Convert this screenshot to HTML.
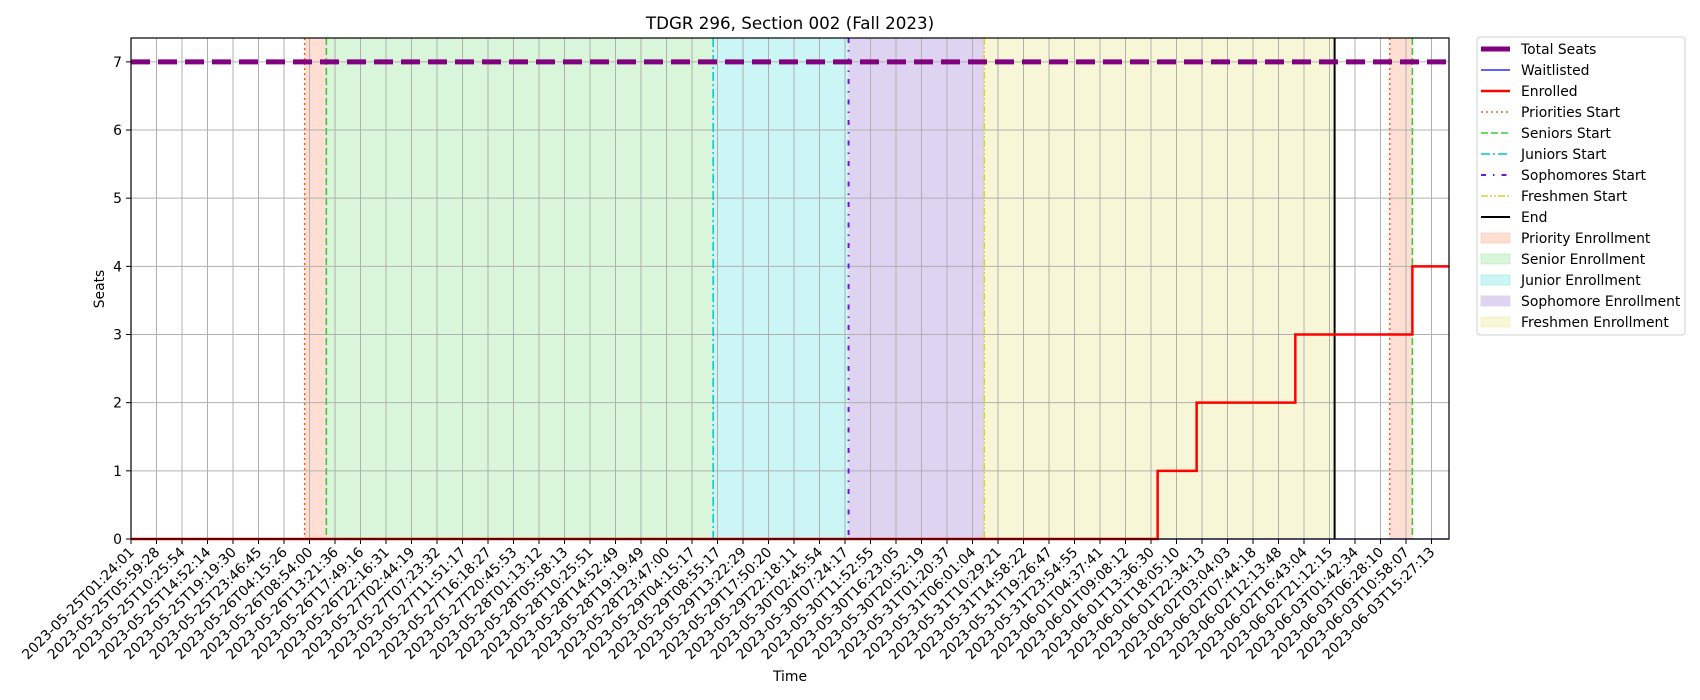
<!DOCTYPE html>
<html><head><meta charset="utf-8"><style>
html,body{margin:0;padding:0;background:#fff;}
svg{display:block;font-family:"DejaVu Sans","Liberation Sans",sans-serif;}
</style></head><body>
<svg id="chart" width="1700" height="700" viewBox="0 0 1700 700">
<text x="790" y="29" font-size="16.7" text-anchor="middle">TDGR 296, Section 002 (Fall 2023)</text>
<g id="spans"></g><g id="grid"></g><g id="vlines"></g><g id="series"></g><g id="axes"></g><g id="legend"></g>
<text x="790" y="681" font-size="13.9" text-anchor="middle">Time</text>
<text transform="translate(104,289) rotate(-90)" font-size="13.9" text-anchor="middle">Seats</text>
</svg>
<script>
const tickLabels=["2023-05-25T01:24:01","2023-05-25T05:59:28","2023-05-25T10:25:54","2023-05-25T14:52:14","2023-05-25T19:19:30","2023-05-25T23:46:45","2023-05-26T04:15:26","2023-05-26T08:54:00","2023-05-26T13:21:36","2023-05-26T17:49:16","2023-05-26T22:16:31","2023-05-27T02:44:19","2023-05-27T07:23:32","2023-05-27T11:51:17","2023-05-27T16:18:27","2023-05-27T20:45:53","2023-05-28T01:13:12","2023-05-28T05:58:13","2023-05-28T10:25:51","2023-05-28T14:52:49","2023-05-28T19:19:49","2023-05-28T23:47:00","2023-05-29T04:15:17","2023-05-29T08:55:17","2023-05-29T13:22:29","2023-05-29T17:50:20","2023-05-29T22:18:11","2023-05-30T02:45:54","2023-05-30T07:24:17","2023-05-30T11:52:55","2023-05-30T16:23:05","2023-05-30T20:52:19","2023-05-31T01:20:37","2023-05-31T06:01:04","2023-05-31T10:29:21","2023-05-31T14:58:22","2023-05-31T19:26:47","2023-05-31T23:54:55","2023-06-01T04:37:41","2023-06-01T09:08:12","2023-06-01T13:36:30","2023-06-01T18:05:10","2023-06-01T22:34:13","2023-06-02T03:04:03","2023-06-02T07:44:18","2023-06-02T12:13:48","2023-06-02T16:43:04","2023-06-02T21:12:15","2023-06-03T01:42:34","2023-06-03T06:28:10","2023-06-03T10:58:07","2023-06-03T15:27:13"];
const yTicks=[0,1,2,3,4,5,6,7];
// event positions in tick-index units
const phaseNames=["Priority","Senior","Junior","Sophomore","Freshmen"];
const phaseStarts=[6.81,7.66,22.83,28.14,33.46];
const phaseEnds=[7.66,22.83,28.14,33.46,47.2];
const phase2Starts=[49.36];
const phase2Ends=[50.25];
const endIdx=47.2;
const totalSeats=7;
const enrolledIdx=[-0.5,40.26,41.79,45.66,50.25,52.0];
const enrolledVals=[0,1,2,3,4,4];
const waitIdx=[-0.5,52.0];
const waitVals=[0,0];

const L=131,R=1449,T=38,B=539,xStep=25.5,yMin=0,yMax=7.35;
const X=i=>L+i*xStep;
const Y=v=>B-(v-yMin)/(yMax-yMin)*(B-T);
const NS="http://www.w3.org/2000/svg";
function mk(tag,attrs,parent){const e=document.createElementNS(NS,tag);for(const k in attrs)e.setAttribute(k,attrs[k]);parent.appendChild(e);return e;}
const cx=v=>Math.max(L,Math.min(R,X(v)));
const fills=["rgba(255,127,80,0.25)","rgba(50,205,50,0.18)","rgba(0,206,209,0.2)","#dfd3f2","rgba(214,214,60,0.2)"];
const spans=document.getElementById('spans');
phaseStarts.forEach((s,i)=>{const r=mk('rect',{x:cx(s),y:T,width:cx(phaseEnds[i])-cx(s),height:B-T,fill:fills[i]},spans);

});
phase2Starts.forEach((s,i)=>{const r=mk('rect',{x:cx(s),y:T,width:cx(phase2Ends[i])-cx(s),height:B-T,fill:fills[0]},spans);

});
const grid=document.getElementById('grid'),axes=document.getElementById('axes');
tickLabels.forEach((t,i)=>{const x=X(i);
mk('line',{x1:x,x2:x,y1:T,y2:B,stroke:"#b0b0b0","stroke-width":1},grid);
mk('line',{x1:x,x2:x,y1:B,y2:B+5,stroke:"#000","stroke-width":1},axes);
const tx=mk('text',{transform:`translate(${x+4},${B+14}) rotate(-45)`,"font-size":13.9,"text-anchor":"end"},axes);tx.textContent=t;

});
yTicks.forEach(v=>{const y=Y(v);
mk('line',{x1:L,x2:R,y1:y,y2:y,stroke:"#b0b0b0","stroke-width":1},grid);
mk('line',{x1:L-5,x2:L,y1:y,y2:y,stroke:"#000"},axes);
const tx=mk('text',{x:L-9,y:y+5,"font-size":13.9,"text-anchor":"end"},axes);tx.textContent=v;

});
const vl=document.getElementById('vlines');
const vdefs=[[phaseStarts[0],"#ff5a1e","2,3",1.5,"priorities-start-line"],[phaseStarts[1],"#32cd32","7,3",1.5,"seniors-start-line"],[phaseStarts[2],"#00c8c8","9,3,2,3",1.5,"juniors-start-line"],[phaseStarts[3],"#6a1bd8","5,7,1.5,7",2,"sophomores-start-line"],[phaseStarts[4],"#d4d430","7,2,2,2,2,2",1.5,"freshmen-start-line"],[endIdx,"#000","",2,"end-line"],[phase2Starts[0],"#ff5a1e","2,3",1.5,"priorities-start-line-2"],[phase2Ends[0],"#32cd32","7,3",1.5,"seniors-start-line-2"]];
vdefs.forEach(d=>{const l=mk('line',{x1:X(d[0]),x2:X(d[0]),y1:T,y2:B,stroke:d[1],"stroke-width":d[3],"stroke-dasharray":d[2]},vl);

});
const ser=document.getElementById('series');
function step(idx,vals){let p=`M${cx(idx[0])},${Y(vals[0])}`;for(let i=1;i<idx.length;i++){p+=`H${cx(idx[i])}V${Y(vals[i])}`;}return p;}
const w=mk('path',{d:step(waitIdx,waitVals),fill:"none",stroke:"#0000ff","stroke-width":1.2},ser);


const en=mk('path',{d:step(enrolledIdx,enrolledVals),fill:"none",stroke:"#ff0000","stroke-width":2.5},ser);


const ts=mk('line',{x1:L,x2:R,y1:Y(totalSeats),y2:Y(totalSeats),stroke:"#800080","stroke-width":5,"stroke-dasharray":"19,8"},ser);


mk('rect',{x:L,y:T,width:R-L,height:B-T,fill:"none",stroke:"#000","stroke-width":1.2},axes);
const lg=document.getElementById('legend');
const box=mk('rect',{x:1477,y:37,width:208,height:298,rx:3,fill:"#fff",stroke:"#d0d0d0"},lg);


const items=[["Total Seats","line","#800080",5,""],["Waitlisted","line","#0000ff",1.2,""],["Enrolled","line","#ff0000",2.5,""],["Priorities Start","line","#ff5a1e",1.5,"2,3"],["Seniors Start","line","#32cd32",1.5,"7,3"],["Juniors Start","line","#00c8c8",1.5,"9,3,2,3"],["Sophomores Start","line","#6a1bd8",2,"5,7,1.5,7"],["Freshmen Start","line","#d4d430",1.5,"7,2,2,2,2,2"],["End","line","#000",2,""],["Priority Enrollment","patch",fills[0]],["Senior Enrollment","patch",fills[1]],["Junior Enrollment","patch",fills[2]],["Sophomore Enrollment","patch",fills[3]],["Freshmen Enrollment","patch",fills[4]]];
items.forEach((it,i)=>{const y=49+i*21;const g=mk('g',{},lg);


if(it[1]=="line")mk('line',{x1:1481,x2:1510,y1:y,y2:y,stroke:it[2],"stroke-width":it[3],"stroke-dasharray":it[4]},g);
else mk('rect',{x:1481,y:y-5,width:29,height:10,fill:it[2],stroke:it[2]},g);
const t=mk('text',{x:1521,y:y+5,"font-size":13.9},g);t.textContent=it[0];});
</script>
</body></html>
